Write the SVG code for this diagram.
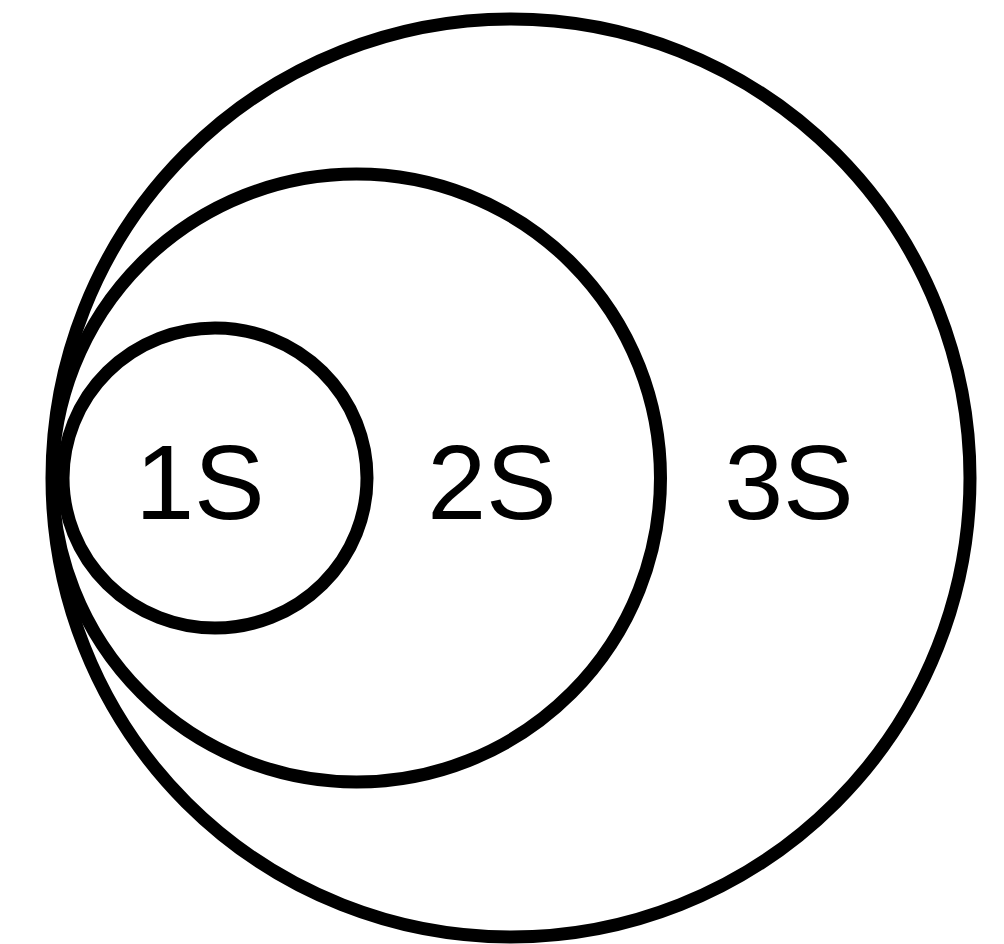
<svg xmlns="http://www.w3.org/2000/svg" width="1004" height="944" viewBox="0 0 1004 944">
<style>
.c{fill:none;stroke:#000;stroke-width:13}
.t{font-family:"Liberation Sans",Arial,sans-serif;font-size:106px;fill:#000;text-anchor:middle}
</style>
<rect width="1004" height="944" fill="#fff"/>
<g id="shell3"><circle class="c" cx="511" cy="478" r="459"/><text class="t" x="789" y="519">3S</text></g>
<g id="shell2"><circle class="c" cx="356.5" cy="478" r="304"/><text class="t" x="492" y="519">2S</text></g>
<g id="shell1"><ellipse class="c" cx="215" cy="478" rx="152" ry="150"/><text class="t" x="200" y="519">1S</text></g>
<g id="connectors"></g>
</svg>
